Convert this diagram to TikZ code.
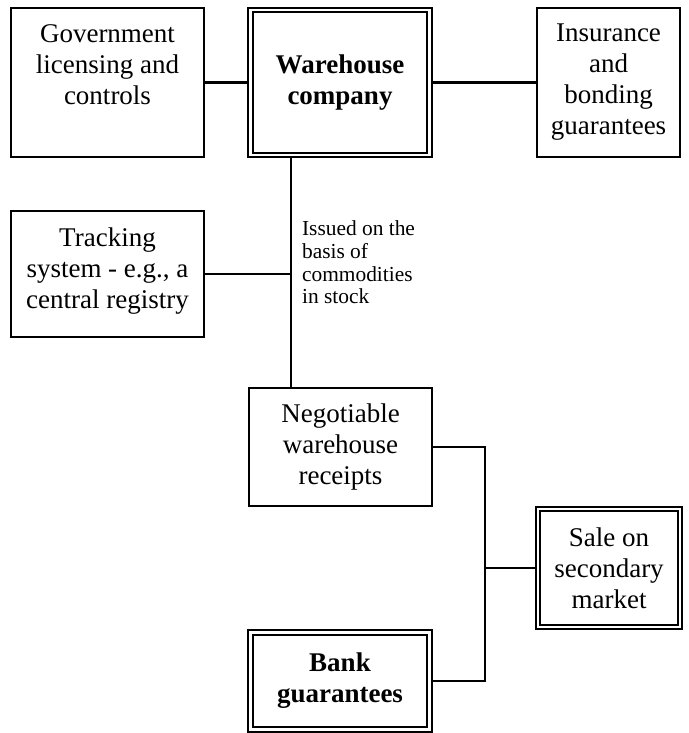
\documentclass[tikz,border=0pt]{standalone}
\usepackage{fontspec}
\setmainfont{Liberation Serif}
\usetikzlibrary{calc}
\tikzset{
  box/.style={draw, line width=2.3pt, inner sep=0pt, align=center,
    font=\fontsize{27}{31}\selectfont},
  dbox/.style={box, line width=2pt, double, double distance=2.4pt, outer sep=2.2pt},
  note/.style={anchor=west, inner sep=0pt, align=left,
    font=\fontsize{21.4}{22.6}\selectfont}
}

\begin{document}
\begin{tikzpicture}[x=1pt, y=-1pt, line width=2.1pt]
        \useasboundingbox (0,0) rectangle (688,733);
        % top row
        \node[box, minimum width=193, minimum height=149] (gov) at (107.5,82.5)
          {Government\\licensing and\\controls\\[4pt]~};
        \node[dbox, minimum width=179, minimum height=145.5] (wh) at (340,82.5)
          {\textbf{Warehouse}\\\textbf{company}};
        \node[box, minimum width=143, minimum height=149] (ins) at (608.5,82.5)
          {Insurance\\and\\bonding\\guarantees};
        % middle
        \node[box, minimum width=193, minimum height=126] (trk) at (107.5,274)
          {Tracking\\system - e.g., a\\central registry\\[-20pt]~};
        \coordinate (jn) at (291,274);
        \node[note] (iss) at (301,262.5)
          {Issued on the\\basis of\\commodities\\in stock};
        \node[box, minimum width=183, minimum height=118] (neg) at (340.5,447)
          {Negotiable\\warehouse\\receipts};
        % bottom
        \node[dbox, minimum width=141.5, minimum height=118.5] (sale) at (609,568)
          {Sale on\\secondary\\market};
        \node[dbox, minimum width=179, minimum height=97] (bank) at (340,681)
          {\textbf{Bank}\\\textbf{guarantees}};
        \coordinate (rail) at (485,568);
        % connectors
        \draw (gov) -- (wh);
        \draw (wh) -- (ins);
        \draw (wh.south -| jn) -- (neg.north -| jn);
        \draw (trk) -- (jn);
        \draw (neg.east) -| (rail) |- (bank.east);
        \draw (rail) -- (sale);
    \end{tikzpicture}
\end{document}
